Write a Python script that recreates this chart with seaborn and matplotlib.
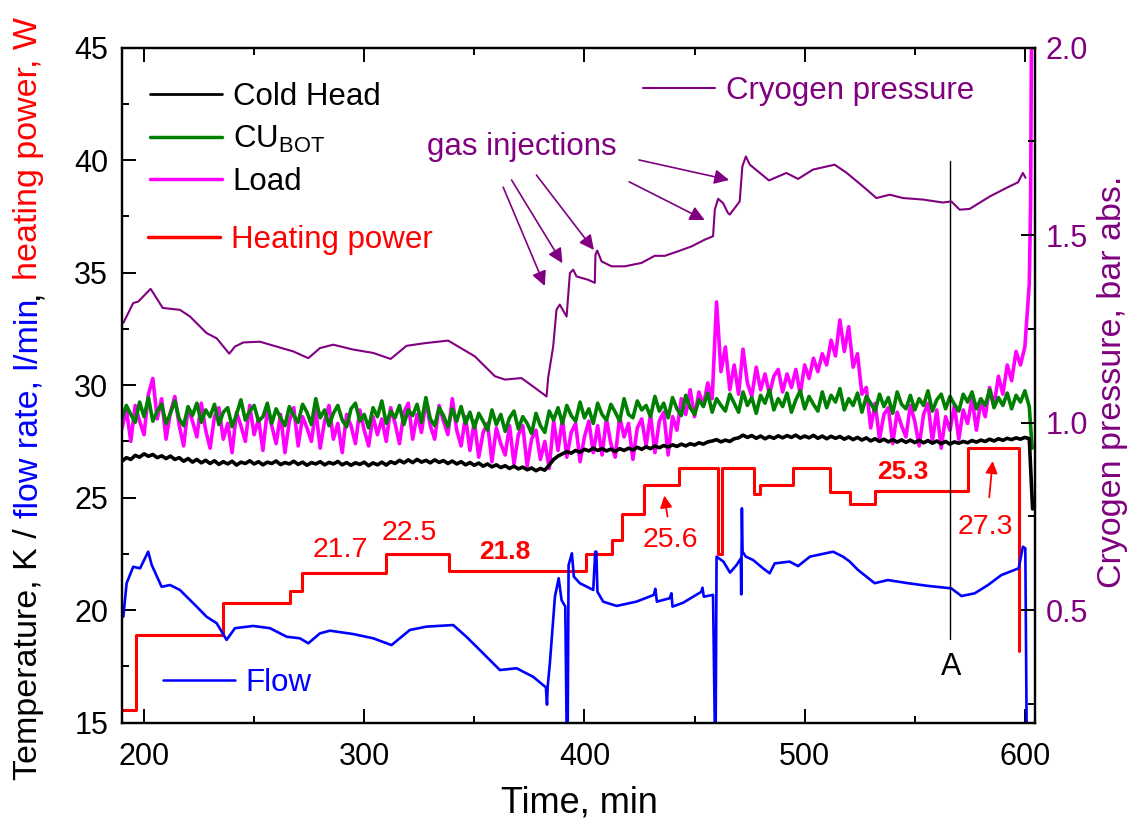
import numpy as np
import pandas as pd
import matplotlib
matplotlib.use("Agg")
import matplotlib.pyplot as plt
from matplotlib.lines import Line2D
from matplotlib.ticker import MultipleLocator, FormatStrFormatter
import seaborn as sns

# ---- data ----
# noisy temperature channels, sampled every 2 min from 190 to 602 min
t_noisy = np.arange(190, 604, 2)

cold_head = [
    26.62, 26.78, 26.70, 26.88, 26.80, 26.95, 26.84, 26.92, 26.78, 26.86,
    26.74, 26.85, 26.70, 26.78, 26.62, 26.74, 26.58, 26.70, 26.55, 26.66,
    26.52, 26.64, 26.48, 26.60, 26.50, 26.62, 26.45, 26.58, 26.52, 26.64,
    26.50, 26.60, 26.46, 26.58, 26.52, 26.63, 26.47, 26.56, 26.50, 26.62,
    26.48, 26.58, 26.44, 26.56, 26.50, 26.60, 26.46, 26.57, 26.50, 26.61,
    26.46, 26.56, 26.44, 26.55, 26.48, 26.58, 26.42, 26.55, 26.46, 26.58,
    26.45, 26.60, 26.52, 26.66, 26.55, 26.68, 26.56, 26.70, 26.58, 26.66,
    26.55, 26.68, 26.57, 26.65, 26.52, 26.63, 26.50, 26.60, 26.46, 26.56,
    26.44, 26.54, 26.40, 26.50, 26.37, 26.46, 26.34, 26.42, 26.30, 26.40,
    26.28, 26.36, 26.24, 26.32, 26.20, 26.30, 26.22, 26.45, 26.70, 26.85,
    26.95, 27.05, 26.98, 27.10, 27.02, 27.15, 27.08, 27.20, 27.10, 27.18,
    27.08, 27.16, 27.05, 27.18, 27.10, 27.20, 27.12, 27.24, 27.15, 27.26,
    27.18, 27.30, 27.22, 27.32, 27.25, 27.35, 27.28, 27.38, 27.30, 27.40,
    27.34, 27.44, 27.38, 27.48, 27.52, 27.58, 27.48, 27.56, 27.50, 27.62,
    27.66, 27.78, 27.68, 27.76, 27.64, 27.74, 27.62, 27.72, 27.64, 27.75,
    27.66, 27.76, 27.68, 27.78, 27.65, 27.74, 27.66, 27.77, 27.64, 27.74,
    27.62, 27.73, 27.64, 27.72, 27.60, 27.70, 27.58, 27.68, 27.56, 27.66,
    27.52, 27.62, 27.50, 27.60, 27.48, 27.58, 27.47, 27.57, 27.46, 27.56,
    27.45, 27.55, 27.44, 27.54, 27.42, 27.52, 27.40, 27.50, 27.38, 27.48,
    27.42, 27.50, 27.44, 27.54, 27.47, 27.56, 27.50, 27.60, 27.52, 27.62,
    27.55, 27.64, 27.58, 27.66, 27.60, 27.68, 27.62,
]

cu_bot = [
    28.55, 29.10, 28.70, 28.35, 29.25, 28.60, 29.45, 28.40, 28.85, 29.15,
    28.30, 28.75, 29.30, 28.50, 28.20, 29.05, 28.65, 29.20, 28.35, 28.90,
    28.60, 29.15, 28.25, 28.80, 29.00, 28.15, 28.70, 29.35, 28.45, 28.85,
    29.10, 28.40, 28.60, 29.20, 28.30, 28.95, 28.55, 28.20, 29.05, 28.65,
    28.35, 29.15, 28.80, 28.25, 29.40, 28.55, 28.90, 28.20, 28.75, 29.10,
    28.45, 28.15, 28.95, 29.20, 28.40, 28.70, 28.10, 29.00, 28.60, 29.30,
    28.30, 28.85, 28.55, 29.10, 28.25, 28.90, 28.65, 29.15, 28.35, 29.45,
    28.50, 28.20, 29.00, 28.65, 28.15, 28.95, 28.40, 29.05, 28.30, 28.80,
    28.10, 28.75, 28.40, 28.00, 28.90, 28.25, 28.70, 27.95, 28.55, 28.85,
    28.05, 28.60, 28.30, 27.85, 28.75, 28.20, 27.90, 28.85, 28.45, 29.00,
    28.30, 29.10, 28.65, 28.40, 29.25, 28.55, 28.95, 28.30, 29.20, 28.70,
    28.45, 29.15, 28.80, 28.40, 29.40, 28.70, 28.55, 29.30, 28.90, 29.10,
    28.60, 29.50, 28.85, 29.20, 28.55, 29.45, 28.95, 28.65, 29.55, 29.00,
    28.70, 29.35, 29.05, 29.65, 28.80, 29.40, 29.10, 28.85, 29.60, 29.20,
    28.80, 29.70, 29.10, 29.45, 28.75, 29.55, 29.20, 29.80, 28.90, 29.40,
    29.05, 29.65, 28.80, 29.35, 29.75, 28.95, 29.50, 29.15, 28.85, 29.70,
    29.00, 29.55, 29.25, 29.85, 28.90, 29.40, 29.10, 29.65, 28.80, 29.50,
    29.20, 28.85, 29.60, 29.05, 29.45, 28.75, 29.70, 29.15, 28.95, 29.55,
    28.90, 29.40, 29.10, 29.75, 28.85, 29.35, 29.60, 28.95, 29.50, 29.15,
    28.85, 29.60, 29.25, 29.70, 28.95, 29.40, 29.10, 29.80, 29.00, 29.45,
    29.10, 29.65, 28.95, 29.55, 29.25, 29.75, 29.05,
]

load = [
    28.10, 28.90, 27.50, 29.10, 28.40, 27.80, 29.60, 30.30, 28.50, 29.40,
    27.60, 28.80, 29.50, 28.20, 27.30, 29.00, 28.40, 27.70, 29.20, 28.00,
    27.20, 28.60, 29.00, 27.60, 28.30, 27.00, 28.80, 28.20, 27.50, 29.10,
    27.80, 28.50, 27.10, 28.90, 28.20, 27.40, 28.70, 27.00, 28.40, 29.00,
    27.30, 28.60, 28.10, 27.50, 28.90, 27.20, 28.40, 29.10, 27.60, 28.30,
    27.00, 28.70, 28.20, 27.40, 28.90, 28.00, 27.30, 28.60, 27.80, 28.50,
    27.50, 29.00, 28.30, 27.40, 28.80, 29.20, 27.60, 28.70, 27.90, 29.30,
    28.20, 27.60, 29.10, 28.40, 27.80, 29.40, 28.00, 27.30, 28.60, 27.10,
    28.40, 26.80, 27.90, 28.30, 26.60, 28.10, 27.40, 26.90, 28.20, 26.50,
    27.80, 28.20, 26.40, 27.60, 28.00, 26.70, 27.50, 26.30, 28.40, 27.10,
    28.50, 26.80, 27.90, 28.30, 26.60, 27.70, 28.40, 27.00, 28.20, 26.90,
    28.50, 27.40, 26.80, 28.60, 27.70, 28.30, 26.70, 28.10, 28.50, 27.30,
    28.70, 27.00, 28.40, 28.80, 26.90, 28.60, 28.00, 29.40, 28.70, 29.80,
    28.60, 29.70, 29.10, 30.10, 29.40, 33.70, 30.60, 31.70, 29.80, 30.90,
    29.60, 31.60, 30.10, 29.50, 30.80, 29.80, 30.50, 29.60, 30.40, 30.70,
    29.70, 30.50, 29.90, 30.70, 29.60, 30.90, 30.30, 31.20, 30.60, 31.40,
    30.90, 32.00, 31.30, 32.90, 31.50, 32.60, 30.80, 31.40, 29.60, 29.90,
    28.10, 29.20, 27.60, 28.70, 29.00, 27.40, 28.80, 28.20, 27.70, 29.10,
    28.40, 27.30, 28.70, 29.20, 27.50, 28.90, 27.20, 28.60, 28.00, 29.10,
    27.60, 28.90, 28.30, 29.40, 28.00, 29.30, 28.60, 29.90, 29.10, 30.40,
    29.60, 30.90, 30.20, 31.50, 30.90, 31.70, 34.50,
]

# last readings at the very end of the run
ch_end_t, ch_end = [603.5], [24.5]
cu_end_t, cu_end = [603.3], [27.2]
load_end_t, load_end = [602.6, 603.0], [38.0, 45.5]

# heating power, step changes (min, W)
hp_t = [190, 196.4, 236, 266.3, 271.6, 309.7, 338.6, 400.5, 412.6, 417.1, 427,
        443, 460.7, 462.6, 476.9, 479.6, 494.7, 511.5, 520.5, 532.1, 574.2, 597.3]
hp_w = [15.55, 18.9, 20.3, 20.87, 21.64, 22.48, 21.75, 22.5, 23.12, 24.28, 25.56,
        26.3, 22.5, 26.3, 25.15, 25.56, 26.3, 25.25, 24.72, 25.3, 27.22, 18.2]

# flow rate, l/min
flow_t = [190.6, 192.1, 195.1, 198.2, 201.9, 203.5, 208.0, 211.8, 216.3, 223.9,
          228.4, 233.0, 237.5, 241.3, 249.6, 257.2, 264.8, 270.8, 274.6, 279.9,
          284.4, 295.0, 304.1, 312.4, 320.7, 328.3, 340.4, 346.4, 352.5, 361.6,
          369.2, 376.7, 382.5, 383.0, 383.3, 384.3, 386.6, 388.3, 389.6, 391.3,
          391.9, 392.4, 392.8, 394.3, 395.2, 397.9, 404.0, 404.9, 405.4, 405.9,
          408.5, 414.6, 423.6, 431.5, 432.2, 432.9, 438.7, 439.5, 440.0, 444.8,
          453.1, 453.6, 454.2, 458.4, 459.2, 459.6, 460.0, 463.1, 466.1, 469.1,
          471.0, 471.2, 471.5, 471.8, 473.3, 476.6, 481.1, 484.1, 486.4, 493.2,
          497.0, 502.4, 512.9, 517.4, 520.5, 524.2, 531.8, 537.8, 546.9, 556.0,
          566.6, 571.2, 577.2, 583.3, 589.3, 596.1, 597.2, 599.1, 600.2, 600.8]
flow = [19.71, 21.2, 21.93, 21.86, 22.6, 22.01, 21.04, 21.12, 20.9, 20.16,
        19.71, 19.42, 18.68, 19.2, 19.3, 19.2, 18.82, 18.75, 18.53, 18.97,
        19.09, 18.94, 18.75, 18.45, 19.12, 19.27, 19.34, 18.82, 18.23, 17.34,
        17.42, 17.04, 16.57, 15.8, 16.6, 17.64, 20.6, 21.42, 20.45, 20.16,
        14.8, 14.8, 22.0, 22.53, 21.49, 21.2, 20.9, 22.6, 22.6, 20.82,
        20.38, 20.19, 20.38, 20.68, 20.95, 20.38, 20.53, 20.75, 20.16, 20.33,
        20.82, 21.0, 20.6, 20.68, 14.8, 14.8, 22.38, 22.16, 21.67, 22.01,
        22.3, 20.7, 24.53, 22.6, 22.38, 22.23, 21.86, 21.64, 22.08, 22.16,
        21.96, 22.38, 22.6, 22.38, 22.16, 21.79, 21.2, 21.34, 21.2, 21.08,
        20.97, 20.63, 20.75, 21.12, 21.56, 21.82, 21.86, 22.82, 22.75, 14.8]

# cryogen pressure, bar abs.
pres_t = [190.6, 195.1, 197.4, 203.0, 208.5, 216.3, 220.9, 228.4, 233.0, 238.7,
          241.3, 245.1, 252.6, 260.2, 267.8, 274.6, 279.9, 285.9, 295.0, 304.1,
          312.0, 319.2, 327.5, 338.1, 342.7, 350.2, 359.3, 363.9, 371.4, 377.5,
          382.8, 383.5, 385.8, 387.3, 388.8, 391.9, 393.4, 394.9, 396.4, 401.7,
          404.7, 405.0, 405.8, 407.8, 412.3, 418.3, 425.9, 431.9, 436.5, 442.5,
          448.6, 454.6, 458.4, 459.2, 460.7, 462.9, 465.2, 466.0, 470.5, 471.7,
          473.3, 475.1, 483.8, 491.7, 497.0, 503.8, 513.6, 518.9, 526.5, 532.6,
          538.6, 544.7, 553.8, 562.8, 566.6, 570.4, 574.9, 584.0, 591.6, 596.9,
          599.1, 600.3]
pres = [1.266, 1.319, 1.323, 1.357, 1.306, 1.301, 1.283, 1.239, 1.225, 1.184,
        1.203, 1.214, 1.216, 1.203, 1.190, 1.172, 1.199, 1.208, 1.195, 1.186,
        1.170, 1.205, 1.212, 1.219, 1.203, 1.177, 1.124, 1.115, 1.119, 1.093,
        1.070, 1.119, 1.203, 1.301, 1.315, 1.283, 1.399, 1.408, 1.390, 1.381,
        1.373, 1.448, 1.459, 1.430, 1.417, 1.417, 1.426, 1.445, 1.445, 1.457,
        1.470, 1.488, 1.497, 1.568, 1.597, 1.586, 1.559, 1.555, 1.590, 1.683,
        1.710, 1.688, 1.646, 1.666, 1.650, 1.675, 1.688, 1.667, 1.630, 1.599,
        1.608, 1.599, 1.595, 1.587, 1.590, 1.568, 1.570, 1.603, 1.626, 1.641,
        1.666, 1.653]

# power labels: (time, level, text, bold)
power_notes = [(289, 22.68, "21.7", False), (320.7, 23.42, "22.5", False),
               (363.8, 22.6, "21.8", True), (438.8, 23.12, "25.6", False),
               (544.7, 26.16, "25.3", True), (582, 23.7, "27.3", False)]

# gas injection arrows: (from time, from T, to time, to T)
gas_arrows = [(363.1, 38.8, 382.0, 34.41), (366.9, 39.12, 390.0, 35.42),
              (378.2, 39.34, 404.3, 36.01), (420.3, 39.04, 454.6, 37.34),
              (424.8, 40.01, 465.7, 39.12)]

PURPLE = "#800080"
GREEN = "#008000"
MAGENTA = "#FF00FF"

sns.set_style("ticks")
plt.rcParams["font.family"] = ["Liberation Sans", "DejaVu Sans"]
plt.rcParams["mathtext.default"] = "regular"
for key in ("text.color", "axes.labelcolor", "xtick.color", "ytick.color", "axes.edgecolor"):
    plt.rcParams[key] = "black"

fig = plt.figure(figsize=(11.38, 8.25), dpi=100)
ax = fig.add_axes([0.1072, 0.1240, 0.8019, 0.8182])
ax2 = ax.twinx()

df_load = pd.DataFrame({"t": np.concatenate([t_noisy, load_end_t]),
                        "v": np.concatenate([load, load_end])})
df_cu = pd.DataFrame({"t": np.concatenate([t_noisy, cu_end_t]),
                      "v": np.concatenate([cu_bot, cu_end])})
df_ch = pd.DataFrame({"t": np.concatenate([t_noisy, ch_end_t]),
                      "v": np.concatenate([cold_head, ch_end])})

common = dict(estimator=None, sort=False, legend=False)
sns.lineplot(data=df_load, x="t", y="v", ax=ax, color=MAGENTA, lw=2.6, **common)
sns.lineplot(data=df_cu, x="t", y="v", ax=ax, color=GREEN, lw=2.6, **common)
sns.lineplot(data=df_ch, x="t", y="v", ax=ax, color="black", lw=2.6, **common)
sns.lineplot(x=hp_t, y=hp_w, ax=ax, color="red", lw=2.2,
             drawstyle="steps-post", **common)
sns.lineplot(x=flow_t, y=flow, ax=ax, color="blue", lw=1.9, **common)
sns.lineplot(x=pres_t, y=pres, ax=ax2, color=PURPLE, lw=1.5, **common)

# marker line "A"
ax.plot([566, 566], [18.7, 39.95], color="black", lw=1.0)
ax.text(566.6, 17.49, "A", fontsize=22, ha="center", va="center")

for x, y, s, bold in power_notes:
    ax.text(x, y, s, color="red", fontsize=19 if bold else 20.5,
            fontweight="bold" if bold else "normal", ha="center", va="center")
ax.annotate("", xy=(436.1, 25.22), xytext=(437.9, 24.04),
            arrowprops=dict(arrowstyle="-|>", color="red", lw=1.3, mutation_scale=18))
ax.annotate("", xy=(585.5, 26.75), xytext=(583.7, 24.9),
            arrowprops=dict(arrowstyle="-|>", color="red", lw=1.3, mutation_scale=18))

ax.text(328.4, 40.6, "gas injections", color=PURPLE, fontsize=22.5,
        ha="left", va="center")
for x0, y0, x1, y1 in gas_arrows:
    ax.annotate("", xy=(x1, y1), xytext=(x0, y0),
                arrowprops=dict(arrowstyle="-|>", color=PURPLE, lw=1.2,
                                mutation_scale=22, shrinkA=0, shrinkB=0))

# axes
ax.set_xlim(190, 604.4)
ax.set_ylim(15, 45)
ax2.set_ylim(0.2, 2.0)
ax.xaxis.set_major_locator(MultipleLocator(100))
ax.xaxis.set_minor_locator(MultipleLocator(50))
ax.yaxis.set_major_locator(MultipleLocator(5))
ax.yaxis.set_minor_locator(MultipleLocator(2.5))
ax2.yaxis.set_major_locator(MultipleLocator(0.5))
ax2.yaxis.set_minor_locator(MultipleLocator(0.25))
ax2.yaxis.set_major_formatter(FormatStrFormatter("%.1f"))

for a in (ax, ax2):
    for sp in a.spines.values():
        sp.set_linewidth(1.6)
        sp.set_visible(True)
        sp.set_color("black")

ax.tick_params(axis="x", which="both", direction="in", top=True, bottom=True,
               labelsize=22, pad=14, width=1.4, colors="black")
ax.tick_params(axis="y", which="both", direction="in", left=True, right=False,
               labelsize=22, pad=10, width=1.4, colors="black")
ax2.tick_params(axis="y", which="both", direction="in", left=False, right=True,
                labelsize=22, pad=8, width=1.4, color="black", labelcolor=PURPLE)
for a in (ax, ax2):
    a.tick_params(which="major", length=10)
    a.tick_params(which="minor", length=5)
ax.set_xlabel("")
ax.set_ylabel("")
ax2.set_ylabel("")

# legends
leg_kw = dict(frameon=False, fontsize=22.5, handlelength=2.3, handletextpad=0.35,
              borderpad=0, borderaxespad=0)
leg1 = ax.legend(handles=[Line2D([], [], color="black", lw=2),
                          Line2D([], [], color=GREEN, lw=2.5),
                          Line2D([], [], color=MAGENTA, lw=2.5)],
                 labels=["Cold Head", "CU$_{\\mathregular{BOT}}$", "Load"],
                 loc="upper left", bbox_to_anchor=(0.0307, 0.949),
                 labelspacing=0.38, labelcolor="black", **leg_kw)
ax.add_artist(leg1)
leg2 = ax.legend(handles=[Line2D([], [], color="red", lw=2.5)], labels=["Heating power"],
                 loc="center left", bbox_to_anchor=(0.0285, 0.7151),
                 labelcolor="red", **leg_kw)
ax.add_artist(leg2)
leg3 = ax.legend(handles=[Line2D([], [], color=PURPLE, lw=1.5)], labels=["Cryogen pressure"],
                 loc="center left", bbox_to_anchor=(0.5709, 0.936),
                 labelcolor=PURPLE, **leg_kw)
ax.add_artist(leg3)
ax.legend(handles=[Line2D([], [], color="blue", lw=1.8)], labels=["Flow"],
          loc="center left", bbox_to_anchor=(0.0449, 0.0588),
          labelcolor="blue", **leg_kw)

# axis titles
fig.text(579 / 1138, 1 - 803 / 825, "Time, min", fontsize=26, ha="center", va="center")
fig.text(1112 / 1138, 1 - 381.5 / 825, "Cryogen pressure, bar abs.", color=PURPLE,
         fontsize=24.5, rotation=90, ha="center", va="center")

# multicoloured left label, stacked bottom to top
pieces = [("Temperature, K /", "black", 0), ("flow rate, l/min", "blue", 1),
          (",", "black", 0), ("heating power, W", "red", 1)]
fs = 24.5
renderer = fig.canvas.get_renderer()
objs = [fig.text(0, 0, s, color=c, fontsize=fs, rotation=90, ha="center", va="bottom")
        for s, c, _ in pieces]
lengths = [o.get_window_extent(renderer).height for o in objs]
space = 0.278 * fs * fig.dpi / 72
total = sum(lengths) + space * sum(g for _, _, g in pieces)
y = (825 - 398.5) - total / 2
for o, L, (_, _, g) in zip(objs, lengths, pieces):
    y += g * space
    o.set_position((29 / 1138, y / 825))
    y += L

fig.savefig("out.png", dpi=100)
